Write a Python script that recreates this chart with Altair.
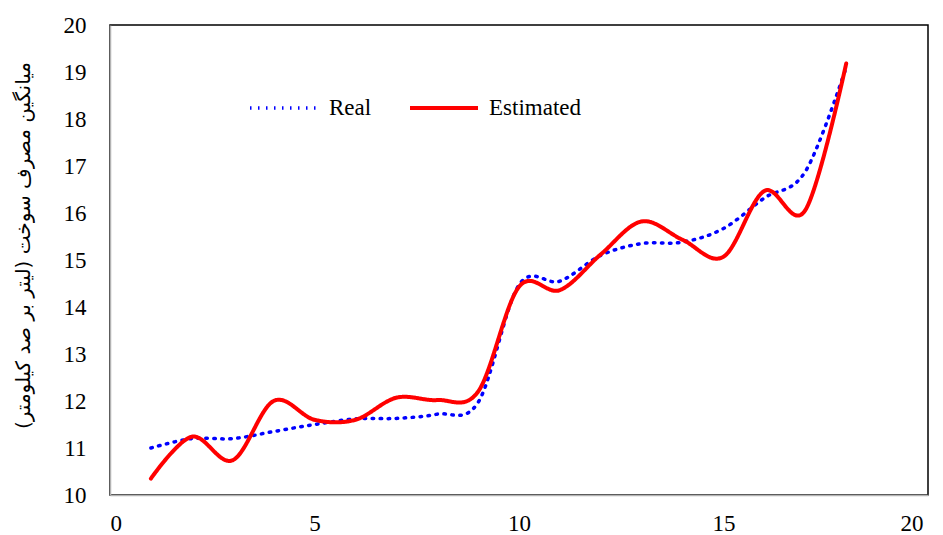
import altair as alt
import pandas as pd

x_vals = list(range(1, 19))
real = [11.0, 11.2, 11.2, 11.35, 11.5, 11.62, 11.63, 11.72, 11.97, 14.47, 14.55, 15.1, 15.35, 15.38, 15.67, 16.32, 16.88, 19.1]
estimated = [10.35, 11.24, 10.74, 12.0, 11.6, 11.6, 12.07, 12.02, 12.2, 14.43, 14.36, 15.12, 15.82, 15.43, 15.07, 16.47, 16.06, 19.18]
series_names = ["Real", "Estimated"]

rows = []
for name, vals in zip(series_names, [real, estimated]):
    for xv, yv in zip(x_vals, vals):
        rows.append({"x": xv, "y": yv, "series": name})
df = pd.DataFrame(rows)

serif = "Liberation Serif"
ytitle = "میانگین مصرف سوخت (لیتر بر صد کیلومتر)"

legend_kw = dict(title=None, orient="none", legendX=138, legendY=47,
                 direction="horizontal", symbolType="stroke",
                 symbolSize=4624, symbolStrokeWidth=3.5,
                 labelFont=serif, labelFontSize=23, labelColor="#000",
                 columnPadding=30, labelOffset=9)

chart = alt.Chart(df).mark_line(interpolate="cardinal", strokeCap="round").encode(
    x=alt.X("x:Q", scale=alt.Scale(domain=[0, 20], nice=False),
            axis=alt.Axis(values=[0, 5, 10, 15, 20], title=None, grid=False, ticks=False,
                          labelPadding=17, labelFontSize=23, labelFont=serif,
                          labelOffset={"condition": {"test": "datum.value == 20", "value": -5}, "value": 0},
                          domainColor="#b3b3b3", domainWidth=1.5, labelColor="#000")),
    y=alt.Y("y:Q", scale=alt.Scale(domain=[10, 20], nice=False),
            axis=alt.Axis(values=list(range(10, 21)), title=ytitle, grid=False, ticks=False,
                          labelPadding=24, labelFontSize=23, labelFont=serif,
                          domainColor="#b3b3b3", domainWidth=1.5, labelColor="#000",
                          titleFont="DejaVu Sans", titleFontSize=20, titleFontWeight="normal",
                          titleAngle=-90, titleX=-87, titleY=220, titleAlign="center",
                          titleBaseline="middle", titleColor="#000")),
    color=alt.Color("series:N", scale=alt.Scale(domain=series_names, range=["#0000FF", "#FF0000"]),
                    legend=alt.Legend(**legend_kw)),
    strokeDash=alt.StrokeDash("series:N", scale=alt.Scale(domain=series_names, range=[[1.5, 6.5], [1, 0]]),
                              legend=alt.Legend(**legend_kw)),
    strokeWidth=alt.StrokeWidth("series:N", scale=alt.Scale(domain=series_names, range=[3.5, 4]), legend=None),
    order=alt.Order("x:Q"),
).properties(
    width=818, height=470,
    autosize=alt.AutoSizeParams(type="none"),
    padding={"left": 102, "top": 17, "right": 7, "bottom": 40},
).configure_view(stroke="#000", strokeWidth=1.5)

chart.save("out.html", embed_options={"renderer": "svg", "actions": False})
